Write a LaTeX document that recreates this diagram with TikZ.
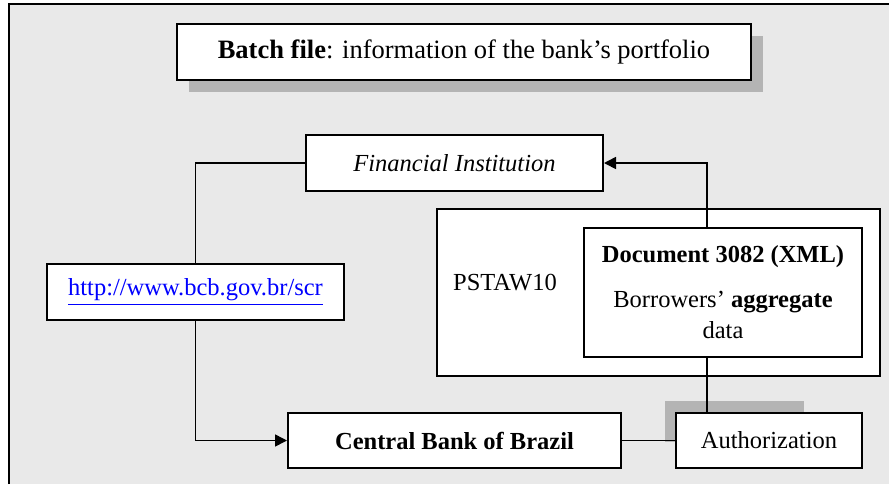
\documentclass[tikz,border=0pt]{standalone}
\usepackage{fontspec}
\setmainfont{Liberation Serif}
\usepackage{tikz}
\usetikzlibrary{arrows.meta}
\usetikzlibrary{shadows}
\definecolor{panel}{RGB}{233,233,233}
\definecolor{shadowgray}{RGB}{180,180,180}
\definecolor{weblink}{RGB}{0,0,255}
\tikzstyle{box}=[rectangle,draw=black,fill=white,inner sep=0mm,line width=1pt,font=\fontsize{12.25}{15.5}\selectfont]
\tikzstyle{tag}=[inner sep=0mm,font=\fontsize{12.25}{15.5}\selectfont]
\tikzstyle{flow}=[->,>={Triangle[length=6pt,width=6pt]}]
\tikzset{every picture/.style={
    line width=0.8pt
  }
}

\begin{document}
\begin{tikzpicture}[x=0.5pt,y=-0.5pt]
      \useasboundingbox (0,0) rectangle (889,484);
      \fill[panel] (9,4) rectangle (889,484);
      \draw[line width=0.75pt] (9,484) -- (9,4) -- (889,4);
      \fill[shadowgray] (665,401) rectangle (804,442);
      \node[box, minimum width=287pt, minimum height=28pt, drop shadow={shadow xshift=6pt, shadow yshift=-6pt, opacity=1, fill=shadowgray}, font=\fontsize{13.25}{16}\selectfont] at (464,52) (batch) {\textbf{Batch file}: information of the bank's portfolio};
      \node[box, minimum width=148.5pt, minimum height=28pt] at (454.5,163) (fin) {\textit{Financial Institution}};
      \node[box, minimum width=148.5pt, minimum height=28pt] at (195.5,292) (url) {\textcolor{weblink}{\underline{http://www.bcb.gov.br/scr}}};
      \node[box, minimum width=221.5pt, minimum height=83.5pt] at (658.5,292.5) (pstaw) {};
      \node[tag] at (505,283) (pstawname) {PSTAW10};
      \node[box, minimum width=139pt, minimum height=64.5pt, align=center] at (723,292.5) (doc) {\textbf{Document 3082 (XML)}\\[7pt] Borrowers' \textbf{aggregate}\\ data};
      \node[box, minimum width=166.5pt, minimum height=27.5pt] at (454.5,440.5) (cbb) {\textbf{Central Bank of Brazil}};
      \node[box, minimum width=93pt, minimum height=27.5pt] at (769,440.5) (auth) {Authorization};
      \draw (fin.west) -| (url.north);
      \draw[flow] (url.south) |- (cbb.west);
      \draw[flow] ([xshift=-8pt]doc.north) |- (fin.east);
      \draw ([xshift=-8pt]doc.south) -- ([xshift=-8pt]doc.south |- auth.north);
      \draw (cbb.east) -- (auth.west);
    \end{tikzpicture}
\end{document}
